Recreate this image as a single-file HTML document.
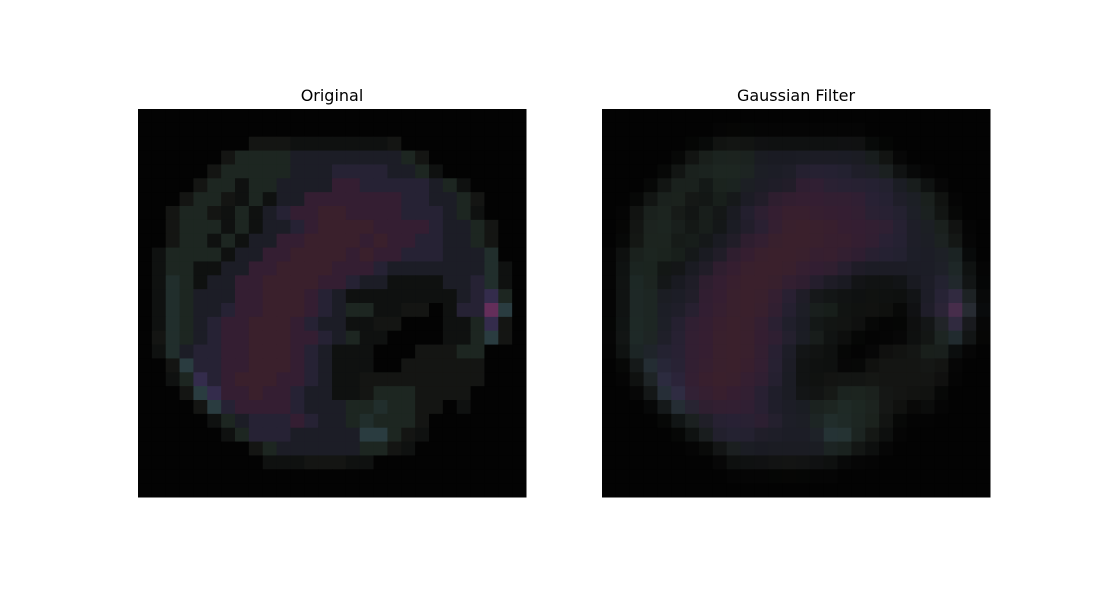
<!DOCTYPE html>
<html><head><meta charset="utf-8"><style>
html,body{margin:0;padding:0;background:#fff;width:1100px;height:600px;overflow:hidden}
svg{display:block}
text{font-family:"DejaVu Sans","Liberation Sans",sans-serif;font-size:16px;fill:#000}
</style></head><body>
<svg id="fig" width="1100" height="600">
<text x="332" y="101" text-anchor="middle">Original</text>
<text x="796" y="101" text-anchor="middle">Gaussian Filter</text>
<g id="left"></g>
<g id="right"></g>
</svg>
<script>
const palette = {
'.':[3,3,3], ',':[10,10,10], 'k':[20,21,19], 'd':[15,17,16], 'g':[29,38,33],
'G':[33,46,44], 'n':[28,29,38], 'b':[38,34,52], 'p':[52,30,50], 'r':[58,32,44],
'm':[100,46,90], 'v':[52,44,76], 'T':[42,60,64]
};
const rows = [
"............................",
"............................",
"........kkkdddddddk.........",
"......kggggnnnnnnnngk.......",
".....kgggggnnnbbbbnngd......",
"....kggdggnnnnppbbbbbngd....",
"...kggkdgdnnpppppppbbnngk...",
"..kggkdgdnbpprrppppbbbngd...",
"..kgggdgdnnbprrrrppppbnngk..",
"..kggdgdnnpprrrrprppbbnngk..",
".dggggdnnpprrrrprppbbbnnnG..",
".dggddnnpprrrrpppbnnnnnnnGd.",
".dGgdnnpprrrrppbnnddddnnbGd.",
".dGgnnnpprrrpbnddddddddnbvg.",
".dGgnnbpprrrpbnggddkk.dbbmT.",
".dGgnbpprrrpbnnddkk...ddgvk.",
".kGgnbpprrrppbngdd....ddgTk.",
".dGnbbpprrrpbnddd...kkkgg...",
"..kTbbpprrrpbnddd..kkkkkk...",
"..dgvbprrrppbnddkkkkkkkkk...",
"...kTvpprppbnnddkgggkkkk....",
"....kTbppppbnnnggGggkk.d....",
".....dgnbbbpbnngGgggk.......",
"......dgbbbnnnnnTTgkd.......",
"........kgnnnnnnggkd........",
".........dddkkkdd...........",
"............................",
"............................"
];
const N = 28;
function cellColor(r,c){const ch=(rows[r]||"")[c]||'.';return palette[ch]||palette['.'];}
const orig=[];for(let r=0;r<N;r++){orig.push([]);for(let c=0;c<N;c++)orig[r].push(cellColor(r,c));}
const kern=[0.15,0.7,0.15];
function blur(img){const out=[];for(let r=0;r<N;r++){out.push([]);for(let c=0;c<N;c++){let s=[0,0,0],w=0;
for(let i=-1;i<=1;i++)for(let j=-1;j<=1;j++){const rr=r+i,cc=c+j;if(rr<0||cc<0||rr>=N||cc>=N)continue;const k=kern[i+1]*kern[j+1];w+=k;for(let q=0;q<3;q++)s[q]+=img[rr][cc][q]*k;}
out[r].push(s.map(v=>Math.round(v/w)));}}return out;}
const blurred=blur(orig);
function draw(gid,img,x0,y0,size){const g=document.getElementById(gid);const cs=size/N;
for(let r=0;r<N;r++)for(let c=0;c<N;c++){const e=document.createElementNS("http://www.w3.org/2000/svg","rect");
e.setAttribute('x',x0+c*cs);e.setAttribute('y',y0+r*cs);e.setAttribute('width',cs+0.5);e.setAttribute('height',cs+0.5);
const v=img[r][c];e.setAttribute('fill','rgb('+v[0]+','+v[1]+','+v[2]+')');


g.appendChild(e);}}
draw('left',orig,138,109,388);
draw('right',blurred,602,109,388);
</script>
</body></html>
